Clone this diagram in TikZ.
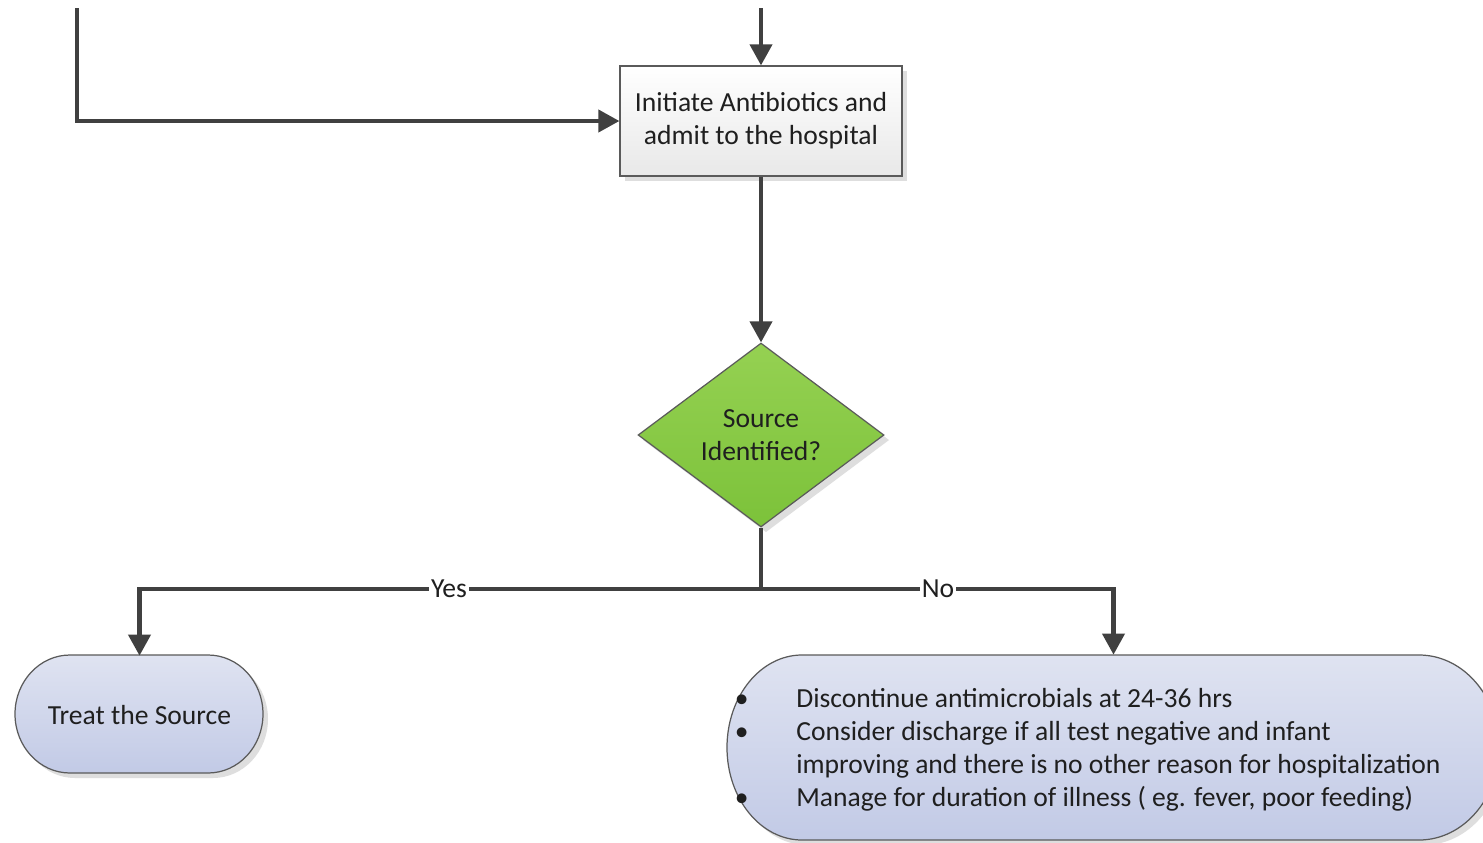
\documentclass[tikz,border=0pt]{standalone}
\usepackage{fontspec}
\setmainfont{Carlito}
\usetikzlibrary{arrows.meta,shapes.geometric}
\definecolor{linegray}{HTML}{404040}
\definecolor{edgegray}{HTML}{5A5A5A}
\definecolor{greentop}{HTML}{95D152}
\definecolor{greenbot}{HTML}{7CC23A}
\definecolor{lavtop}{HTML}{DFE3F1}
\definecolor{lavbot}{HTML}{C2CAE6}
\tikzset{
  txt/.style={font=\fontsize{15.7}{18.8}\selectfont, text=black!88},
  flowline/.style={draw=linegray, line width=2.4pt},
  flow/.style={flowline, -{Triangle[length=12pt,width=12.5pt]}},
  procbox/.style={rectangle, draw=edgegray, line width=0.7pt, top color=white, bottom color=black!9,
    minimum width=5.64cm, minimum height=2.2cm, align=center, txt},
  decision/.style={diamond, draw=edgegray, line width=0.7pt, top color=greentop, bottom color=greenbot,
    minimum width=4.92cm, minimum height=3.68cm, inner sep=0pt, align=center, txt},
  anchorbox/.style={rectangle, inner sep=0pt, draw=none},
  shadowfill/.style={fill=black!13},
  termfill/.style={draw=edgegray, line width=0.7pt, top color=lavtop, bottom color=lavbot},
  branchlabel/.style={fill=white, inner sep=1pt, txt}
}
\begin{document}
\begin{tikzpicture}[x=0.02cm, y=-0.02cm]
  \clip (0,0) rectangle (1483,842);
  \fill[white] (0,0) rectangle (1483,842);

  % drop shadows
  \fill[shadowfill] (625,71) rectangle (907,181);
  \fill[shadowfill] (766,348) -- (889,440) -- (766,532) -- (643,440) -- cycle;
  \fill[shadowfill] (75,660) -- (213,660) arc[start angle=-90, end angle=90, x radius=55, y radius=59]
     -- (75,778) arc[start angle=90, end angle=270, x radius=55, y radius=59] -- cycle;
  \fill[shadowfill] (807,660) -- (1424,660) arc[start angle=-90, end angle=90, x radius=80, y radius=92.5]
     -- (807,845) arc[start angle=90, end angle=270, x radius=75, y radius=92.5] -- cycle;

  % process box and decision
  \node[procbox] (init) at (761,121) {Initiate Antibiotics and\\admit to the hospital};
  \node[decision] (dec) at (761,435) {Source\\Identified?};

  % terminator outlines
  \path[termfill] (70,655) -- (208,655) arc[start angle=-90, end angle=90, x radius=55, y radius=59]
     -- (70,773) arc[start angle=90, end angle=270, x radius=55, y radius=59] -- cycle;
  \path[termfill] (802,655) -- (1419,655) arc[start angle=-90, end angle=90, x radius=80, y radius=92.5]
     -- (802,840) arc[start angle=90, end angle=270, x radius=75, y radius=92.5] -- cycle;

  % terminator nodes
  \node[anchorbox, minimum width=4.94cm, minimum height=2.36cm, txt] (treat) at (139.5,715) {Treat the Source};
  \node[anchorbox, minimum width=15.46cm, minimum height=3.7cm] (noaction) at (1113.5,747.5) {};
  \node[anchor=west, align=left, inner sep=0pt, txt] (notes) at (734.5,749.5)
    {\makebox[1.23cm][l]{•}Discontinue antimicrobials at 24-36 hrs\\
     \makebox[1.23cm][l]{•}Consider discharge if all test negative and infant\\
     \makebox[1.23cm][l]{}improving and there is no other reason for hospitalization\\
     \makebox[1.23cm][l]{•}Manage for duration of illness ( eg. fever, poor feeding)};

  % connectors
  \coordinate (inleft) at (77,8);
  \coordinate (intop) at (761,8);
  \coordinate (split) at (761,589);
  \draw[flow] (inleft) |- (init.west);
  \draw[flow] (intop) -- (init.north);
  \draw[flow] (init.south) -- (dec.north);
  \draw[flowline] (dec.south) -- (split);
  \draw[flow] (split) -| node[branchlabel, pos=0.251] {Yes} (treat.north);
  \draw[flow] (split) -| node[branchlabel, pos=0.251] {No} (noaction.north);
\end{tikzpicture}
\end{document}
